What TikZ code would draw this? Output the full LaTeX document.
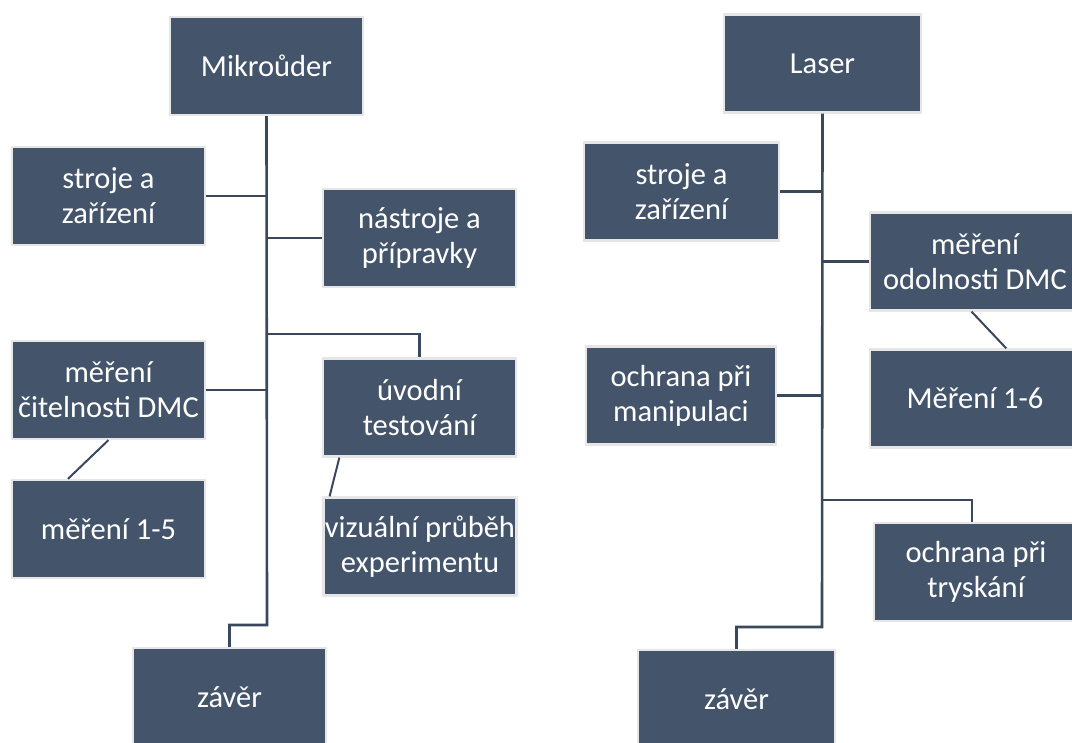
\documentclass[tikz,border=0pt]{standalone}
\usepackage{fontspec}
\setmainfont{Carlito}
\begin{document}
\begin{tikzpicture}[x=1pt,y=-1pt,
  box/.style={draw=boxedge, line width=2.2pt, fill=boxfill, text=white,
    align=center, inner sep=0pt, minimum width=#1-2pt, minimum height=98pt,
    font=\fontsize{30.5pt}{35pt}\selectfont},
  box/.default=195pt,
  link/.style={draw=linkcol, line width=2.6pt},
  slant/.style={draw=linkcol, line width=2pt}]
\definecolor{boxfill}{HTML}{44546A}
\definecolor{boxedge}{HTML}{E6E6E6}
\definecolor{linkcol}{HTML}{3A485B}
\useasboundingbox (0,0) rectangle (1072,743);
\clip (0,0) rectangle (1072,743);

% left tree
\node[box] (mik)  at (266.5,66)  {Mikroůder};
\node[box] (sz1)  at (108.5,196) {stroje a\\zařízení};
\node[box] (nap)  at (419.5,238) {nástroje a\\přípravky};
\node[box] (mcd)  at (108.5,390) {měření\\čitelnosti DMC};
\node[box] (uvt)  at (419.5,407.5) {úvodní\\testování};
\node[box] (m15)  at (108.5,529) {měření 1-5};
\node[box] (vpe)  at (420,546.5) {vizuální průběh\\experimentu};
\node[box] (zav1) at (229.5,697) {závěr};

\coordinate (bend1) at (267,625);
\coordinate (j1) at (267,334);
\draw[link] (mik.south) -- (bend1) -| (zav1.north);
\draw[link] (sz1.east) -- (sz1.east -| bend1);
\draw[link] (nap.west) -- (nap.west -| bend1);
\draw[link] (mcd.east) -- (mcd.east -| bend1);
\draw[link] (j1) -| (uvt.north);
\draw[slant] (mcd.south) -- (m15.129);
\draw[slant] (uvt.212) -- (vpe.151);

% right tree (the three right-hand boxes run past the page edge)
\node[box=199pt] (las)  at (822.5,63.5) {Laser};
\node[box=197pt] (sz2)  at (681.5,191.5) {stroje a\\zařízení};
\node[box=212pt] (mod)  at (975,261.5) {měření\\odolnosti DMC};
\node[box=212pt] (m16)  at (975,398.5) {Měření 1-6};
\node[box=192pt] (opm)  at (681,395.5) {ochrana při\\manipulaci};
\node[box=206pt] (opt)  at (976,572) {ochrana při\\tryskání};
\node[box=199pt] (zav2) at (736.5,699) {závěr};

\coordinate (bend2) at (822,627);
\coordinate (j2) at (822,500);
\draw[link] (las.south) -- (bend2) -| (zav2.north);
\draw[link] (sz2.east) -- (sz2.east -| bend2);
\draw[link] (mod.west) -- (mod.west -| bend2);
\draw[link] (opm.east) -- (opm.east -| bend2);
\draw[link] (j2) -| ([xshift=-4pt]opt.north);
\draw[slant] (mod.-94) -- (m16.58);
\end{tikzpicture}
\end{document}
